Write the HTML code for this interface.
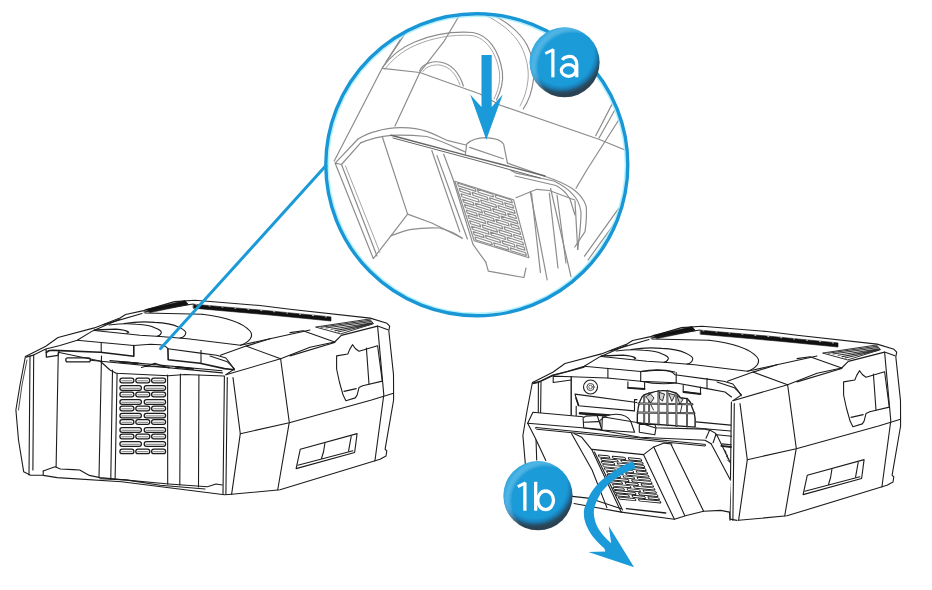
<!DOCTYPE html>
<html><head><meta charset="utf-8">
<style>
html,body{margin:0;padding:0;background:#fff;}
body{width:932px;height:590px;overflow:hidden;font-family:"Liberation Sans",sans-serif;}
svg{display:block;}
.k{fill:none;stroke:#1c1c1c;stroke-width:1.1;stroke-linejoin:round;stroke-linecap:round;}
.g{fill:none;stroke:#8c8c8c;stroke-width:1.2;stroke-linejoin:round;stroke-linecap:round;}
.gd{fill:none;stroke:#666;stroke-width:1.4;stroke-linejoin:round;stroke-linecap:round;}
</style></head>
<body>
<svg width="932" height="590" viewBox="0 0 932 590">
<defs>
<radialGradient id="bg" cx="0.45" cy="0.36" r="0.6">
<stop offset="0" stop-color="#1c9cd9"/>
<stop offset="0.78" stop-color="#1b9ad8"/>
<stop offset="0.87" stop-color="#1a7db5"/>
<stop offset="0.94" stop-color="#245470"/>
<stop offset="1" stop-color="#2a4252"/>
</radialGradient>
<radialGradient id="hl" cx="0.62" cy="0.58" r="0.62">
<stop offset="0.8" stop-color="#ffffff" stop-opacity="0"/>
<stop offset="0.93" stop-color="#7fd0f2" stop-opacity="0.5"/>
<stop offset="1" stop-color="#7fd0f2" stop-opacity="0.3"/>
</radialGradient>
<filter id="soft" x="-5%" y="-5%" width="110%" height="110%"><feGaussianBlur stdDeviation="0.35"/></filter>
<clipPath id="cc"><circle cx="476.8" cy="164.8" r="149.3"/></clipPath>
</defs>
<g id="shell" class="k">
<!-- outer top contour + right side + bottom -->
<path d="M25.4,356.4 L32,353.2 L45.8,346.3 L58,337.5 L94.3,327.9 L120,318 L125.6,314.5 L143.6,310.6 L174.5,301.6 L195,300.3 L260,305.5 L290,309.3 L370.2,318.1 L387,323.3 L389.7,326.1 L388.8,330.8 L393.5,374.6 L393.6,400 L385.1,449.2 L386.8,451 L386,456 L380,459.3 L280,489.8 L231.6,494.3"/>
<path d="M26.1,357.1 L33.6,355.1 L45.8,349 L60,345.5 L77.2,340.3 L92.6,330.9 L120,318.9"/>
<path d="M102.9,324.9 L142,313.5"/>
<!-- right side inner line -->
<path d="M377.6,326.1 L383.8,394.8 L374.9,461"/>
<path d="M334.7,342 L341.3,335.4 L377.6,326.1 L387.9,329.8"/>
<!-- vents -->
<path d="M146,309.4 L185,300.6 L188.5,304.6 L150,312.6 Z" fill="#111" stroke="#111" stroke-width="0.6"/>
<path d="M193.5,304.2 L270,310.9 L331,316.9 L331,321 L270,315 L193.5,308.2 Z" fill="#111" stroke="#111" stroke-width="0.6"/>
<path d="M196,304.8 L270,311.3 L330,317.3" stroke="#fff" stroke-width="0.7" stroke-dasharray="1 12"/>
<path d="M143.8,312 L193,304 M145,313 L202.2,314.2"/>
<g stroke-width="0.9"><path d="M316,327 L369.5,319 L373.5,323.6 L341,333.8 Z"/>
<path d="M321,327.2 L370,320.3 M326,328 L371,321.5 M331,329.3 L372,322.8 M335,330.6 L372.5,323.5 M338,332 L372,324.2" stroke-width="1.1" stroke="#333"/></g>
<!-- top ovals / dome -->
<path d="M202.2,314.2 C225,317 243,323 250,331 C254,336 250,342 240.5,345.2"/>
<path d="M94.3,330 L115.8,329.2 Q126,330 128.7,332.2 L127,333.2" stroke-width="1.3"/>
<path d="M109,325 Q125,323 136.5,324.2 Q150,325 154.7,327.8 Q163,331 161.1,333.3 Q160,336 157,336.2"/>
<path d="M124,323.5 Q140,321 154.7,322.4 Q170,323 178.4,327 Q187,331 185.7,333.3 Q185,337 180,338"/>
<path d="M94.3,330.5 L140,335.2 L160.2,336.5 L187.6,338.8 L240.5,345.2 L270,338.8"/>
<path d="M77.2,340.3 L101.2,342.5 L133.8,345.5 L150.5,344.3 L160,344.7 C163,345 166,346.3 167.9,348.7 L202.2,353.4 L216.7,355.2 L225.9,358 L231.3,365 L234.2,369.7"/>
<path d="M220.4,355.2 L246,346.1 L270,338.8 L310,330"/>
<path d="M246,346.1 L280.6,358.8"/>
<!-- front top edge of side -->
<path d="M225.9,374.7 L280.6,358.8 L310,347.3 L334.7,342"/>
<path d="M290,332.6 L303,330.8 L334.7,342 M290,355.9 L334.7,342.5"/>
<!-- panel divider & belts -->
<path d="M280.6,358.8 L289.3,422.2 L277.7,490"/>
<path d="M240.3,433.7 L289.3,422.8 L371.5,400 L393.5,393.2"/>
<!-- front-right corner -->
<path d="M224.4,376.1 L223,494.3 M227.3,377.6 L225.9,494.3"/>
<path d="M233,377.6 L240.3,433.7 L231.6,494.3"/>
<path d="M210,356 L227.3,361.7 L234.5,368.9 L225.9,374.7"/>
<!-- handle recess -->
<path d="M336.6,355.9 L347.8,354 L349.7,349.4 L352.5,344.7 L355.3,348.5 L359,351.3 L377.6,345.7 L382.3,381.1 L362.7,385.8 L359,387.6 L357.1,395.1 L355.3,397.9 L345.9,400.7 L343.1,395.1 L339.4,382 L336.6,369 Z"/>
<path d="M366.4,348 L369,384 M344,391.4 L356.2,388.6"/>
<!-- lower slot -->
<path d="M296.1,468.6 L300.3,449.2 L357.1,433.6 L354.6,452.5 Z"/>
<path d="M297.8,465.3 L352.9,450.8 M351.2,436.4 L348.6,450.8 M324.9,443.2 Q324,452 321.5,458.5"/>
</g>

<g id="lfront" class="k">
<path d="M25.3,357 L20,385 L15.9,410 L18.5,440 L23.7,471.8 L30.6,475.2 L43.5,475.2"/>
<path d="M27,360 L22,385 L18.5,410" stroke-width="0.8"/>
<path d="M30,356 L29,475 M33.7,355 L32.9,470"/>
<path d="M46.1,349.7 L46.4,357.1 L58,355.4 L59,351.5" stroke-width="1.3"/><path d="M46.4,352.5 C48,350.6 50,350.3 52.5,350.3 L60,350.6 L100.3,352.3 L133.8,356.2 L133.8,345.5" stroke-width="1.6"/>
<path d="M101.2,343 L101.2,352"/>
<path d="M167.9,348.7 L168.2,359.8 L200,363.3 L224.5,368.6 L234.2,369.7" stroke-width="1.6"/>
<path d="M201,350.5 L201,363"/>
<rect x="65.8" y="357.9" width="24.6" height="3.9" rx="1.9" stroke-width="1.3"/>
<path d="M90.4,360.2 L222.4,372.9 M110,360.6 L222,370.8"/>
<path d="M58.3,352 L56.1,467"/>
<path d="M101.5,356 L99,477.6"/>
<path d="M59.3,352.5 L100,361 L105,365.5 L110,370 L116.2,373.2 L168.4,375.8 L185,374.5 L224,376"/>
<path d="M112.5,370 L110.8,479 M117.1,373 L115.1,479"/>
<path d="M167.6,375 L167.7,484 M180.4,374 L179.8,485 M198.9,375 L198.5,487"/>
<path d="M119.5,361.8 L138,363.3 M175.8,366.8 L193,368.8" stroke-width="1.8"/><path d="M141.5,367.5 L150,365 L155,363.2 L160,365 L169,368 M146,366.5 L169,367" stroke-width="1.2"/>
<path d="M43.2,471.1 L55,466.8 L60.4,469 L73.3,469.6 L79.7,470 L89.4,475.4 L100,477.6 L168.8,484 L207.4,486.8 L216,484 L222.4,485"/>
<path d="M43.2,471 L43.2,475.4 L57.2,477.6 L121.5,481.8 L224.5,494.7 L231.6,494.3"/>
<path d="M100,478.8 L125.8,479.9 L160.2,485.2 L205,489"/>
<rect x="119.9" y="378.2" width="14.0" height="4.6" rx="2.3" stroke-width="1.3"/>
<path d="M121.9,380.8 L131.9,380.8" stroke-width="0.6"/>
<rect x="135.8" y="378.2" width="14.0" height="4.6" rx="2.3" stroke-width="1.3"/>
<path d="M137.8,380.8 L147.8,380.8" stroke-width="0.6"/>
<rect x="151.6" y="378.2" width="14.0" height="4.6" rx="2.3" stroke-width="1.3"/>
<path d="M153.6,380.8 L163.6,380.8" stroke-width="0.6"/>
<rect x="119.9" y="385.7" width="21.5" height="4.6" rx="2.3" stroke-width="1.3"/>
<path d="M121.9,388.3 L139.4,388.3" stroke-width="0.6"/>
<rect x="144.2" y="385.7" width="21.4" height="4.6" rx="2.3" stroke-width="1.3"/>
<path d="M146.2,388.3 L163.6,388.3" stroke-width="0.6"/>
<rect x="119.9" y="392.2" width="14.0" height="4.6" rx="2.3" stroke-width="1.3"/>
<path d="M121.9,394.8 L131.9,394.8" stroke-width="0.6"/>
<rect x="135.8" y="392.2" width="14.0" height="4.6" rx="2.3" stroke-width="1.3"/>
<path d="M137.8,394.8 L147.8,394.8" stroke-width="0.6"/>
<rect x="151.6" y="392.2" width="14.0" height="4.6" rx="2.3" stroke-width="1.3"/>
<path d="M153.6,394.8 L163.6,394.8" stroke-width="0.6"/>
<rect x="119.9" y="399.7" width="21.5" height="4.6" rx="2.3" stroke-width="1.3"/>
<path d="M121.9,402.3 L139.4,402.3" stroke-width="0.6"/>
<rect x="144.2" y="399.7" width="21.4" height="4.6" rx="2.3" stroke-width="1.3"/>
<path d="M146.2,402.3 L163.6,402.3" stroke-width="0.6"/>
<rect x="119.9" y="406.2" width="14.0" height="4.6" rx="2.3" stroke-width="1.3"/>
<path d="M121.9,408.8 L131.9,408.8" stroke-width="0.6"/>
<rect x="135.8" y="406.2" width="14.0" height="4.6" rx="2.3" stroke-width="1.3"/>
<path d="M137.8,408.8 L147.8,408.8" stroke-width="0.6"/>
<rect x="151.6" y="406.2" width="14.0" height="4.6" rx="2.3" stroke-width="1.3"/>
<path d="M153.6,408.8 L163.6,408.8" stroke-width="0.6"/>
<rect x="119.9" y="413.3" width="21.5" height="4.6" rx="2.3" stroke-width="1.3"/>
<path d="M121.9,415.9 L139.4,415.9" stroke-width="0.6"/>
<rect x="144.2" y="413.3" width="21.4" height="4.6" rx="2.3" stroke-width="1.3"/>
<path d="M146.2,415.9 L163.6,415.9" stroke-width="0.6"/>
<rect x="119.9" y="419.7" width="14.0" height="4.6" rx="2.3" stroke-width="1.3"/>
<path d="M121.9,422.3 L131.9,422.3" stroke-width="0.6"/>
<rect x="135.8" y="419.7" width="14.0" height="4.6" rx="2.3" stroke-width="1.3"/>
<path d="M137.8,422.3 L147.8,422.3" stroke-width="0.6"/>
<rect x="151.6" y="419.7" width="14.0" height="4.6" rx="2.3" stroke-width="1.3"/>
<path d="M153.6,422.3 L163.6,422.3" stroke-width="0.6"/>
<rect x="119.9" y="427.7" width="21.5" height="4.6" rx="2.3" stroke-width="1.3"/>
<path d="M121.9,430.3 L139.4,430.3" stroke-width="0.6"/>
<rect x="144.2" y="427.7" width="21.4" height="4.6" rx="2.3" stroke-width="1.3"/>
<path d="M146.2,430.3 L163.6,430.3" stroke-width="0.6"/>
<rect x="119.9" y="434.2" width="14.0" height="4.6" rx="2.3" stroke-width="1.3"/>
<path d="M121.9,436.8 L131.9,436.8" stroke-width="0.6"/>
<rect x="135.8" y="434.2" width="14.0" height="4.6" rx="2.3" stroke-width="1.3"/>
<path d="M137.8,436.8 L147.8,436.8" stroke-width="0.6"/>
<rect x="151.6" y="434.2" width="14.0" height="4.6" rx="2.3" stroke-width="1.3"/>
<path d="M153.6,436.8 L163.6,436.8" stroke-width="0.6"/>
<rect x="119.9" y="441.7" width="21.5" height="4.6" rx="2.3" stroke-width="1.3"/>
<path d="M121.9,444.3 L139.4,444.3" stroke-width="0.6"/>
<rect x="144.2" y="441.7" width="21.4" height="4.6" rx="2.3" stroke-width="1.3"/>
<path d="M146.2,444.3 L163.6,444.3" stroke-width="0.6"/>
<rect x="119.9" y="449.1" width="14.0" height="4.6" rx="2.3" stroke-width="1.3"/>
<path d="M121.9,451.7 L131.9,451.7" stroke-width="0.6"/>
<rect x="135.8" y="449.1" width="14.0" height="4.6" rx="2.3" stroke-width="1.3"/>
<path d="M137.8,451.7 L147.8,451.7" stroke-width="0.6"/>
<rect x="151.6" y="449.1" width="14.0" height="4.6" rx="2.3" stroke-width="1.3"/>
<path d="M153.6,451.7 L163.6,451.7" stroke-width="0.6"/>
</g>
<use href="#shell" transform="translate(507,26)"/>
<g class="k">
<path d="M532.3,383 L527,411 L522.9,435.5 L525.5,466 L530.7,497.8"/>
<path d="M538.4,382.5 L538.3,413 M541,382 L540.6,413 M536,438.6 L536.7,460"/>
<path d="M532.6,383.8 L538.4,382.5 L553.2,375.5 L584.1,367.1"/>
<path d="M553.2,376.1 L553.2,382.5 L571.2,380 M553.2,376.1 L571.2,376.7 L607.3,378 L640.7,381.2 L674.8,382.8 L707,388.6 L725,392 L731.5,397"/>
<path d="M607.9,368.4 L607.9,378 M640.7,371.6 L640.7,381.2 M676.2,372.5 L676.2,383 M707,378.3 L707,388.6"/>
<path d="M640.7,371.6 Q658,368 674.8,372 M640.7,381.2 Q658,385 676.2,383"/>
<path d="M571.2,376.7 L571.2,415.4" stroke-width="1.4"/>
<circle cx="590.5" cy="387" r="7" /><circle cx="590.5" cy="387" r="3.6" stroke-width="0.8"/><circle cx="590.5" cy="387" r="1.8" stroke-width="0.6"/>
<path d="M575,394.1 L636.9,402.5 M575,394.1 L578.3,405.7 L634.3,410.9"/>
<path d="M576,398 L578.5,405" stroke-width="1.6"/>
<path d="M627.9,381.9 L627.9,387.7 L644.6,389 L644.6,382.5" /><path d="M628,387.8 L644.5,389" stroke-width="1.8"/>
<path d="M683.2,385.3 L683.2,391.5 L700.5,394 L700.5,387" /><path d="M683.5,392 L700.5,394" stroke-width="1.8"/>
<path d="M576.2,406.4 L576.2,415.8"/><path d="M580,413.3 L610,415.6" stroke-width="2.6"/>
<path d="M637,399.6 L634.5,399.6 L634.5,410.8"/>
<path d="M696,421.9 L730.7,425.1 M696,428 L730.7,431"/>
<path fill="#fff" d="M637.3,423 C637,414 637.5,404 642.2,396.5 C645,394 648,393.2 650.3,393 C654,391.5 658,390.9 662,390.6 C668,390.4 672,391.5 675.6,393 C678,394.5 679.5,396 680.4,397.8 L687,398.6 C690,401 691.5,404 691.8,406.8 C694,411 695,415 695.1,418.2 L695.1,427.1 Z" stroke-width="1.4"/>
<g stroke-width="1.9" stroke="#222">
<path d="M644.2,395 L644.2,423.6 M649.1,393.2 L649.1,424 M658.5,391 L658.5,424.6 M667.4,390.6 L667.4,425.3 M676.4,393.5 L676.4,426 M687,398.8 L687,426.6"/>
<path d="M638.5,403.5 L692.5,404.2 M637.5,412.5 L694.5,413.2"/>
</g>
<g stroke-width="0.45" stroke="#fff">
<path d="M644.2,396 L644.2,423 M649.1,394 L649.1,423.5 M658.5,392 L658.5,424 M667.4,391.5 L667.4,424.8 M676.4,394.5 L676.4,425.5 M687,400 L687,426"/>
<path d="M639,403.5 L692,404.2 M638,412.5 L694,413.2"/>
</g>
<path d="M646,396.5 L650.5,394 L654,398 L651,402.5 Z M659.5,392.5 L664.5,394 L662.5,401 L660,399 Z M669,393.5 L675,395 L672,401 Z M677.5,396 L683,399.5 L680,404 Z M651,405 L653.5,410 M682,405 L680.5,412" fill="#d0d0d0" stroke-width="0.9"/>
</g>
<g class="k">
<path fill="#fff" d="M532.9,412.2 L583.1,416.7 L602.4,416.7 L654.8,427.7 L705,429.1 L715.2,433.1 L717.2,435.7 L731,481.2 L729.4,512.1 L720.8,510.4 L703.6,511.2 L686.4,515.5 L674.4,519.3 L621.2,512.1 L604,496.7 L545.8,460.5 L535.5,438.6 L527.7,423.2 Z" stroke="none"/>
<path fill="#fff" d="M599.8,420.6 Q606,414 616.6,414.2 Q627,414.5 630.7,421.2 L634.6,432.2 L601,430 Z"/>
<path fill="#fff" d="M583.1,418 L585.7,416.1 L597.2,415.5 L601.8,429.6 L583.7,427.7 Z"/><path d="M584,422.2 L598.5,421.6"/>
<path fill="#fff" d="M639.3,424.5 L654.8,424.5 L656,427.7 L654.8,434.8 L639.3,432.2 Z"/>
<path d="M527.7,423.2 L532.9,412.2 L583.1,416.7 M601.8,429.6 L602.4,416.7 L640,423 L654.8,427.7 L705,429.1 C709,429.6 712,430.5 715.2,433.1 L717.2,435.7"/>
<path d="M527.7,423.2 L581.8,427.7 L601.1,430.3 L640,437.3 L705,440.3 L711.1,443.8"/>
<path d="M536,427.5 L705,444.4 Q707,445.3 705,446 L536.5,429.2 Q534.5,428.3 536,427.5 Z" stroke-width="1"/>
<path d="M709.6,430.1 L706,438.2 M716,434.3 L713.1,442.8"/>
<path d="M527.7,423.2 L535.5,438.6 L545.8,460.5"/>
<path d="M711.1,443.8 L730.4,480 M717.2,435.7 L730.4,462.7"/>
<path d="M717,434.8 L731.5,436.2 M722,443.9 L731,444.8"/><path d="M721.3,445.8 L731,447" stroke-width="1.8"/>
<path d="M724.5,450 L726,452 M725.5,453 L727.5,455.5 M726.5,456.5 L728.5,459 M727.5,460 L729.5,462" stroke-width="0.9"/>
<path d="M571.5,433.5 L592.1,470 L606.9,507.6"/>
<path d="M574,433.5 L581.8,437.3 L592.1,450.2 L621.2,512.1"/>
<path d="M592,449.4 L643.5,454.6 L653.8,446.9 L664.1,443.1 L672,444"/>
<path d="M643.5,454.6 L674.4,519.3"/>
<path d="M594.5,452 L622.5,510"/>
<path d="M621.2,512.1 L674.4,519.3 L686.4,515.5 L703.6,511.2 L720.8,510.4 L729.4,512.1"/>
<path d="M653.8,446.9 L684.7,515.5 M671,444.3 L703.6,511.2"/>
<path d="M626.4,508.7 L665.8,513" stroke-width="1.3"/>
<g transform="matrix(1,0.094,0.4155,0.9107,597.1,453.9)" stroke-width="1.0" stroke="#1a1a1a">
<rect x="0.5" y="1.00" width="11" height="2.4" rx="1.2"/>
<rect x="14.5" y="1.00" width="13" height="2.4" rx="1.2"/>
<rect x="30.5" y="1.00" width="13" height="2.4" rx="1.2"/>
<rect x="1.5" y="4.55" width="17" height="2.4" rx="1.2"/>
<rect x="21.5" y="4.55" width="22" height="2.4" rx="1.2"/>
<rect x="0.5" y="8.10" width="13" height="2.4" rx="1.2"/>
<rect x="16.5" y="8.10" width="12" height="2.4" rx="1.2"/>
<rect x="31.5" y="8.10" width="12" height="2.4" rx="1.2"/>
<rect x="0.5" y="11.65" width="21" height="2.4" rx="1.2"/>
<rect x="24.5" y="11.65" width="19" height="2.4" rx="1.2"/>
<rect x="0.5" y="15.20" width="11" height="2.4" rx="1.2"/>
<rect x="14.5" y="15.20" width="15" height="2.4" rx="1.2"/>
<rect x="32.5" y="15.20" width="11" height="2.4" rx="1.2"/>
<rect x="1.5" y="18.75" width="16" height="2.4" rx="1.2"/>
<rect x="20.5" y="18.75" width="23" height="2.4" rx="1.2"/>
<rect x="0.5" y="22.30" width="13" height="2.4" rx="1.2"/>
<rect x="16.5" y="22.30" width="11" height="2.4" rx="1.2"/>
<rect x="30.5" y="22.30" width="13" height="2.4" rx="1.2"/>
<rect x="0.5" y="25.85" width="20" height="2.4" rx="1.2"/>
<rect x="23.5" y="25.85" width="20" height="2.4" rx="1.2"/>
<rect x="0.5" y="29.40" width="12" height="2.4" rx="1.2"/>
<rect x="15.5" y="29.40" width="13" height="2.4" rx="1.2"/>
<rect x="31.5" y="29.40" width="12" height="2.4" rx="1.2"/>
<rect x="1.5" y="32.95" width="18" height="2.4" rx="1.2"/>
<rect x="22.5" y="32.95" width="21" height="2.4" rx="1.2"/>
<rect x="0.5" y="36.50" width="11" height="2.4" rx="1.2"/>
<rect x="14.5" y="36.50" width="13" height="2.4" rx="1.2"/>
<rect x="30.5" y="36.50" width="13" height="2.4" rx="1.2"/>
<rect x="0.5" y="40.05" width="21" height="2.4" rx="1.2"/>
<rect x="24.5" y="40.05" width="19" height="2.4" rx="1.2"/>
<rect x="0.5" y="43.60" width="13" height="2.4" rx="1.2"/>
<rect x="16.5" y="43.60" width="13" height="2.4" rx="1.2"/>
<rect x="32.5" y="43.60" width="11" height="2.4" rx="1.2"/>
<rect x="1.5" y="47.15" width="17" height="2.4" rx="1.2"/>
<rect x="21.5" y="47.15" width="22" height="2.4" rx="1.2"/>
</g>
</g>
<g class="k"><path d="M572.4,496.4 L590.3,498.4 L621.2,508.7 M574,503.5 L621.2,512.1"/></g>
<g class="k"><path d="M729.4,512.1 L730.1,519.1 L737,520.4"/></g>
<g clip-path="url(#cc)"><g filter="url(#soft)">
<g class="g">
<!-- top diagonals -->
<path d="M404.6,34.4 L382.5,67.5 L355.4,120 L334.2,161"/>
<path d="M400,40 L386,62"/>
<path d="M459,16 L444.4,40.8 L419.8,72.5 L397.8,120 L395,126"/>
<!-- dome arc A1 (double) -->
<path d="M382.5,67.5 C390,57 400,48 414.7,42 C430,35.5 450,31 472.9,32.5 C488,35 499,50 502.4,72 C503.5,82 500.5,92 496.4,100"/>
<path d="M385,69 C392,60 402,51 416,45 C431,38.5 451,34 472,35.5 C486,38 496,52 499.4,72 C500.5,82 498,91 494,99" stroke="#a5a5a5" stroke-width="1"/>
<!-- outer arc A2 (double) -->
<path d="M490,14 C505,20 520,32 527,45 C533,57 535,70 533.4,80 C532,92 528,102 523.2,109"/>
<path d="M485,15 C500,22 514,33 521,46 C527,58 529,70 528,80 C527,90 524,99 520,106" stroke="#a5a5a5" stroke-width="1"/>
<!-- H1 -->
<path d="M382.5,68.3 L419.8,72.5 L480,94 L500.3,105.2 L599.5,139.5 L630,152"/>
<!-- bump -->
<path d="M419.5,71 C423,63 433,61 440,62 C452,64 459,72 463.4,86"/>
<path d="M423,71.5 C426,66 434,64.5 440,65 C450,67 456,74 460,85" stroke="#a5a5a5" stroke-width="1"/>
<!-- right side lines -->
<path d="M612.2,103.9 L595.7,135.7 M616,108 L599,138"/>
<path d="M620,118 L586.8,170 L576,188.3"/>
<path d="M618.5,208.7 L584.5,256.2 M622,213 L588,260"/>
<!-- lip upper -->
<path d="M358,139 C365,135 370,132.5 375.9,131.4 C385,128.5 392,127.5 401.3,127.6 C412,127.5 420,129 426.7,131.4 C436,134.5 441,138 447,140.3 L466,145"/>
<path d="M360.6,142.9 C372,138 382,136 391.1,135.3 C405,135 416,135.5 426.7,136.5 C440,140 452,146 464.8,151.8"/>
<!-- tab bump -->
<path d="M465.4,154.2 L466.7,144 C472,139 479,137.6 485.8,137.6 C494,138 501,140 503.6,144 L507.4,163.1"/>
<path d="M469.7,147.4 L503.2,158.8"/>
<!-- lip right -->
<path d="M507.4,163.1 L546.8,177 C556,180 565,184 572.2,188.5 C580,194 584,199 586.2,206.3 C587,216 586,225 585,231.7 L574.8,247"/>
<path d="M511,170.5 L516.3,173.2 L554,181 C562,185 568,189 572,193.6 C578,199 580,205 581,212 C581,222 580,230 579.4,235.8 L577.7,249.4"/>
<path d="M515,176 L556,185.5 C563,189 567,194 570,199 L575,215"/>
<!-- left side -->
<path d="M358,139 L335.2,163.2 L341.5,164.5 L360.6,142.9"/>
<path d="M335.2,163.2 L373.3,258.6 L391.1,235.7"/>
<path d="M341.5,164.5 L377,256"/>
<path d="M345.5,166 L380,252.5" stroke="#a5a5a5" stroke-width="1"/>
<!-- center face -->
<path d="M382.2,136.5 L407.6,214.1 L391.1,235.7"/>
<path d="M407.6,214.1 L431.8,223 L462.3,238.2"/>
<path d="M391.1,235.7 C398,233 404,230.5 411.4,229.3 C420,228 430,227.5 439.4,228 C448,230 455,233 462.3,238.2"/>
<path d="M431.8,150.5 L459.8,231.9 M437,155.6 L467.4,239"/>
<!-- front panel -->
<path d="M516,197.7 L536.8,189.3 L549.3,190.5 L574.8,200"/>
<path d="M443.7,154.2 L452.9,178.7 L473,244.4 L485.8,262.2"/>
<path d="M531.5,193 L540.4,272.4 M549.3,193 L558,268 M557,195 L566,263 M575,201 L577.7,249.4"/>
<path d="M485.8,262.2 L488.3,271.1 L523.9,277.5 L526,268"/>
<path d="M530.2,191.7 L547.2,280 M550.6,188.5 L571,276.6"/>
</g>
<g class="g" stroke="#7a7a7a" stroke-width="0.9">
<path d="M454.8,181.3 L513.6,199.8 L528.9,257.7 L474.2,240.8 Z" stroke-width="1.2"/>
<path d="M457.5,183.0 L475.1,188.6 L476.0,191.4 L458.4,185.9 Z"/>
<path d="M477.4,189.3 L492.7,194.1 L493.5,197.0 L478.3,192.2 Z"/>
<path d="M495.1,194.8 L511.5,200.0 L512.3,202.9 L495.9,197.7 Z"/>
<path d="M459.2,188.4 L469.7,191.7 L470.6,194.6 L460.2,191.3 Z"/>
<path d="M472.1,192.4 L487.2,197.2 L488.1,200.1 L473.0,195.3 Z"/>
<path d="M489.6,197.9 L502.4,202.0 L503.2,204.8 L490.4,200.8 Z"/>
<path d="M504.7,202.7 L512.9,205.3 L513.7,208.1 L505.5,205.6 Z"/>
<path d="M461.0,193.8 L478.4,199.3 L479.2,202.2 L461.9,196.7 Z"/>
<path d="M480.7,200.0 L495.8,204.7 L496.6,207.6 L481.6,202.9 Z"/>
<path d="M498.1,205.5 L514.3,210.5 L515.1,213.4 L498.9,208.3 Z"/>
<path d="M462.7,199.2 L473.1,202.5 L474.0,205.4 L463.7,202.1 Z"/>
<path d="M475.4,203.2 L490.4,207.9 L491.2,210.8 L476.3,206.1 Z"/>
<path d="M492.7,208.6 L505.3,212.6 L506.1,215.4 L493.5,211.5 Z"/>
<path d="M507.7,213.3 L515.7,215.8 L516.5,218.7 L508.4,216.1 Z"/>
<path d="M464.5,204.6 L481.6,210.0 L482.5,212.9 L465.4,207.5 Z"/>
<path d="M483.9,210.7 L498.8,215.4 L499.6,218.2 L484.8,213.6 Z"/>
<path d="M501.1,216.1 L517.1,221.1 L517.9,223.9 L501.9,218.9 Z"/>
<path d="M466.2,210.0 L476.4,213.2 L477.4,216.1 L467.2,212.9 Z"/>
<path d="M478.7,213.9 L493.5,218.5 L494.4,221.4 L479.6,216.8 Z"/>
<path d="M495.8,219.3 L508.3,223.2 L509.1,226.0 L496.6,222.1 Z"/>
<path d="M510.6,223.9 L518.5,226.4 L519.3,229.2 L511.4,226.7 Z"/>
<path d="M468.0,215.4 L484.9,220.7 L485.8,223.6 L468.9,218.3 Z"/>
<path d="M487.2,221.4 L501.9,226.0 L502.7,228.9 L488.0,224.3 Z"/>
<path d="M504.1,226.7 L519.9,231.6 L520.7,234.5 L504.9,229.6 Z"/>
<path d="M469.7,220.8 L479.8,224.0 L480.7,226.9 L470.7,223.8 Z"/>
<path d="M482.1,224.7 L496.6,229.2 L497.5,232.1 L483.0,227.6 Z"/>
<path d="M498.9,229.9 L511.2,233.8 L512.0,236.6 L499.7,232.8 Z"/>
<path d="M513.5,234.5 L521.3,236.9 L522.1,239.7 L514.3,237.3 Z"/>
<path d="M471.5,226.2 L488.2,231.4 L489.1,234.3 L472.4,229.2 Z"/>
<path d="M490.4,232.1 L504.9,236.6 L505.7,239.5 L491.3,235.0 Z"/>
<path d="M507.1,237.3 L522.7,242.2 L523.5,245.0 L508.0,240.2 Z"/>
<path d="M473.2,231.6 L483.2,234.7 L484.1,237.6 L474.1,234.6 Z"/>
<path d="M485.4,235.4 L499.8,239.9 L500.6,242.8 L486.3,238.3 Z"/>
<path d="M502.0,240.6 L514.2,244.3 L515.0,247.2 L502.8,243.4 Z"/>
<path d="M516.4,245.0 L524.2,247.4 L524.9,250.3 L517.2,247.9 Z"/>
<path d="M475.0,237.0 L491.5,242.2 L492.3,245.0 L475.9,240.0 Z"/>
<path d="M493.7,242.8 L508.0,247.3 L508.8,250.1 L494.5,245.7 Z"/>
<path d="M510.2,247.9 L525.6,252.7 L526.3,255.5 L511.0,250.8 Z"/>
</g>
<g class="gd">
<path d="M391,135.3 L467.4,155.6 L500,164 L545,176"/>
<path d="M393,138 L475,160 L540,178" stroke-width="1"/>
</g>
</g></g>

<!-- magnifier circle -->
<circle cx="476.8" cy="164.8" r="148.6" fill="none" stroke="#9eeefc" stroke-opacity="0.75" stroke-width="1.6"/>
<circle cx="476.8" cy="164.8" r="151" fill="none" stroke="#1996d5" stroke-width="3.4"/>
<line x1="326" y1="165.5" x2="160.6" y2="348.6" stroke="#1a9ad8" stroke-width="3" stroke-linecap="round"/>
<polygon fill="#1a9ad8" points="481.5,55 491.7,55 491.7,107 502.7,94.4 486.3,139.8 470.2,94.4 481.5,107"/>
<!-- badge 1a -->
<circle cx="564.6" cy="62.3" r="35" fill="url(#bg)"/>
<circle cx="564.6" cy="62.3" r="35" fill="url(#hl)"/>
<g fill="none" stroke="#fff" stroke-width="3.2">
<path d="M552.9,77.3 L552.9,49.2"/>
<path d="M553.5,49.5 L545.3,53.4" stroke-width="2.8"/>
<path d="M562.3,59.8 C564.5,56.3 571.5,55.2 574.6,58.3 C576.3,60 576.8,62.5 576.8,65.5 L576.8,77.3"/>
<ellipse cx="568.6" cy="70.5" rx="7.3" ry="5.8"/>
</g>
<!-- badge 1b -->
<circle cx="538" cy="495.7" r="34.6" fill="url(#bg)"/>
<circle cx="538" cy="495.7" r="34.6" fill="url(#hl)"/>
<g fill="none" stroke="#fff" stroke-width="3.3">
<path d="M524.9,510.7 L524.9,482.6"/>
<path d="M525.5,482.9 L517.8,486.6" stroke-width="2.9"/>
<path d="M535.7,481.8 L535.7,510.7"/>
<ellipse cx="545.6" cy="500.3" rx="7.9" ry="9.3"/>
</g>
<!-- curved arrow -->
<path fill="#1a9ad8" d="M633.2,461.5 C625,464 619,467.5 614.3,470.9 C607,476 601,480 597.2,484.6 C592,491 588.5,496 586.9,501.8 C584.5,507 583.5,511 583.9,512.7 C583.8,517 584.5,521 586.4,525.4 C588.5,530 591,534.5 594,538.1 C597,542 601,545.5 604.2,548.3 L605.5,551.5 L588.3,552.1 L634.1,567.3 L608.7,526 L611.2,543.2 C608,540.5 605,537.5 602.3,534.3 C599,530 596.5,526 595.3,521.6 C594,517 593.6,513 594,510.2 C594.5,506 596,502.5 597.2,500 C598.5,497 600,495 600.6,493.2 C604.5,488 609,483.5 614.3,479.5 C620.5,475 627.5,471 635.8,468.3 Z"/>

</svg>
</body></html>
